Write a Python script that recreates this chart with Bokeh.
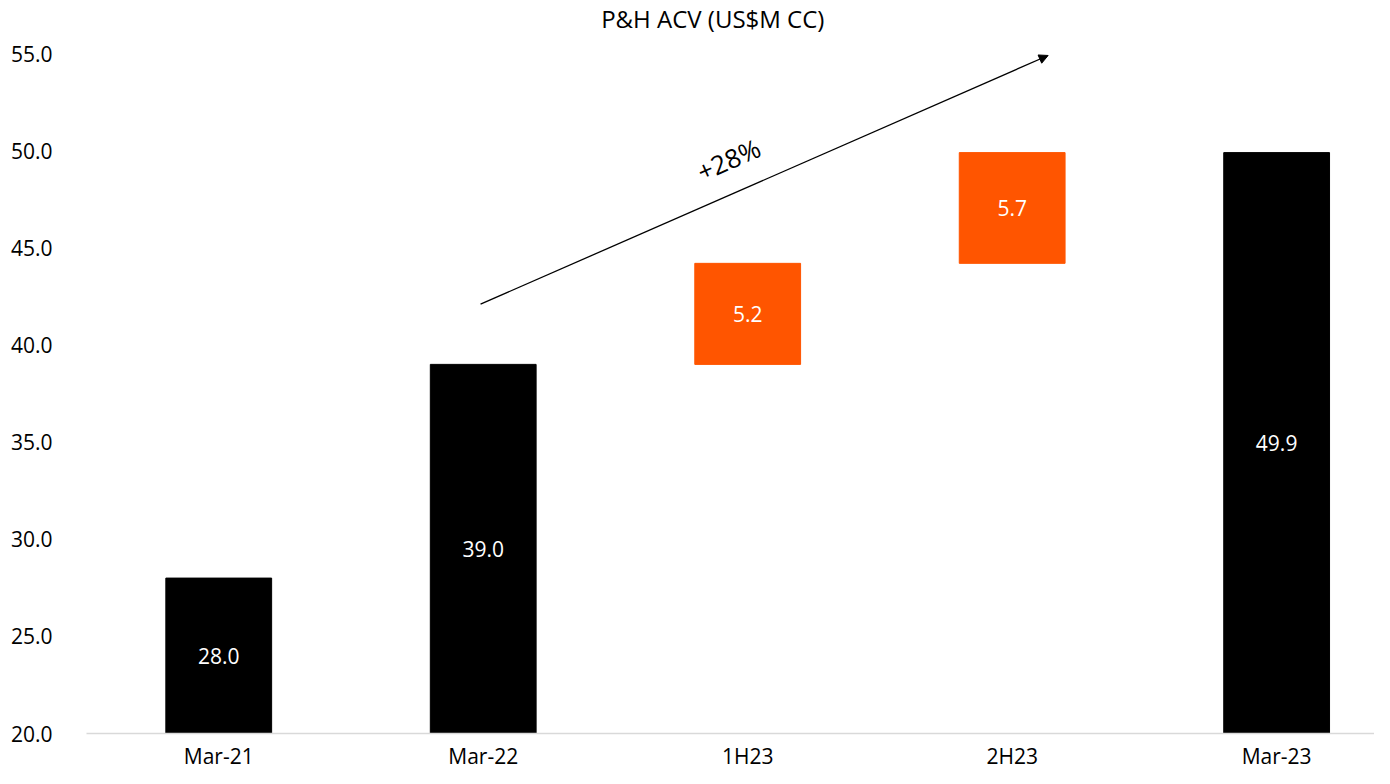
from bokeh.plotting import figure
from bokeh.models import (ColumnDataSource, FixedTicker, NumeralTickFormatter, Label,
                          Arrow, NormalHead, Range1d, LabelSet)
from bokeh.core.properties import value
from bokeh.embed import file_html
from bokeh.resources import INLINE

# ---- data ----
categories = ["Mar-21", "Mar-22", "1H23", "2H23", "Mar-23"]
values = [28.0, 39.0, 5.2, 5.7, 49.9]
kinds = ["total", "total", "step", "step", "total"]
axis_base = 20.0
y_ticks = [20, 25, 30, 35, 40, 45, 50, 55]
title_text = "P&H ACV (US$M CC)"
growth_text = "+28%"

# arrow endpoints (data coords)
arrow_start = (0.99, 42.1)
arrow_end = (3.136, 54.9)
growth_pos = (1.928, 49.55)
title_pos = (1.868, 56.8)

FONT = "Open Sans"
BLACK = "#000000"
ORANGE = "#FF5500"

# waterfall geometry from the values
xs, bottoms, tops, colors, labels, mids = [], [], [], [], [], []
running = 0.0
for i, (c, v, k) in enumerate(zip(categories, values, kinds)):
    if k == "total":
        b, t = axis_base, v
        running = v
        col = BLACK
    else:
        b, t = running, running + v
        running = t
        col = ORANGE
    xs.append(i)
    bottoms.append(b)
    tops.append(t)
    colors.append(col)
    labels.append(f"{v:.1f}")
    mids.append((b + t) / 2)

src = ColumnDataSource(dict(x=xs, bottom=bottoms, top=tops, color=colors,
                            label=labels, mid=mids))

p = figure(frame_width=1288, frame_height=733, output_backend="svg", toolbar_location=None,
           x_range=Range1d(-0.5, 4.37), y_range=Range1d(20, 57.73),
           min_border_left=86, min_border_right=0, min_border_top=0, min_border_bottom=0)
p.outline_line_color = None
p.xgrid.visible = False
p.ygrid.visible = False

p.vbar(x="x", bottom="bottom", top="top", width=0.4, color="color", source=src)

p.add_layout(LabelSet(x="x", y="mid", text="label", source=src, text_color="white",
                      text_font=value(FONT), text_font_size="21px", text_align="center",
                      text_baseline="middle"))

# x axis
p.xaxis.ticker = FixedTicker(ticks=list(range(len(categories))))
p.xaxis.major_label_overrides = {i: c for i, c in enumerate(categories)}
p.xaxis.axis_line_color = "#d9d9d9"
p.xaxis.axis_line_width = 1.5
p.xaxis.major_tick_line_color = None
p.xaxis.minor_tick_line_color = None
p.xaxis.major_label_text_font = FONT
p.xaxis.major_label_text_font_size = "21px"
p.xaxis.major_label_text_color = "#000000"
p.xaxis.major_label_standoff = 2

# y axis
p.yaxis.ticker = FixedTicker(ticks=y_ticks)
p.yaxis.formatter = NumeralTickFormatter(format="0.0")
p.yaxis.axis_line_color = None
p.yaxis.major_tick_line_color = None
p.yaxis.minor_tick_line_color = None
p.yaxis.major_label_text_font = FONT
p.yaxis.major_label_text_font_size = "21px"
p.yaxis.major_label_text_color = "#000000"
p.yaxis.major_label_standoff = 28

# title
p.add_layout(Label(x=title_pos[0], y=title_pos[1], text=title_text, text_font=FONT,
                   text_font_size="24px", text_align="center", text_baseline="middle",
                   text_color="#000000"))

# growth arrow
p.add_layout(Arrow(end=NormalHead(size=9, fill_color=BLACK, line_color=BLACK),
                   x_start=arrow_start[0], y_start=arrow_start[1],
                   x_end=arrow_end[0], y_end=arrow_end[1],
                   line_color=BLACK, line_width=1.3))
p.add_layout(Label(x=growth_pos[0], y=growth_pos[1], text=growth_text, text_font=FONT,
                   text_font_size="26px", text_align="center", text_baseline="middle",
                   angle=0.415, text_color="#000000"))

open("out.html", "w").write(file_html(p, INLINE))
